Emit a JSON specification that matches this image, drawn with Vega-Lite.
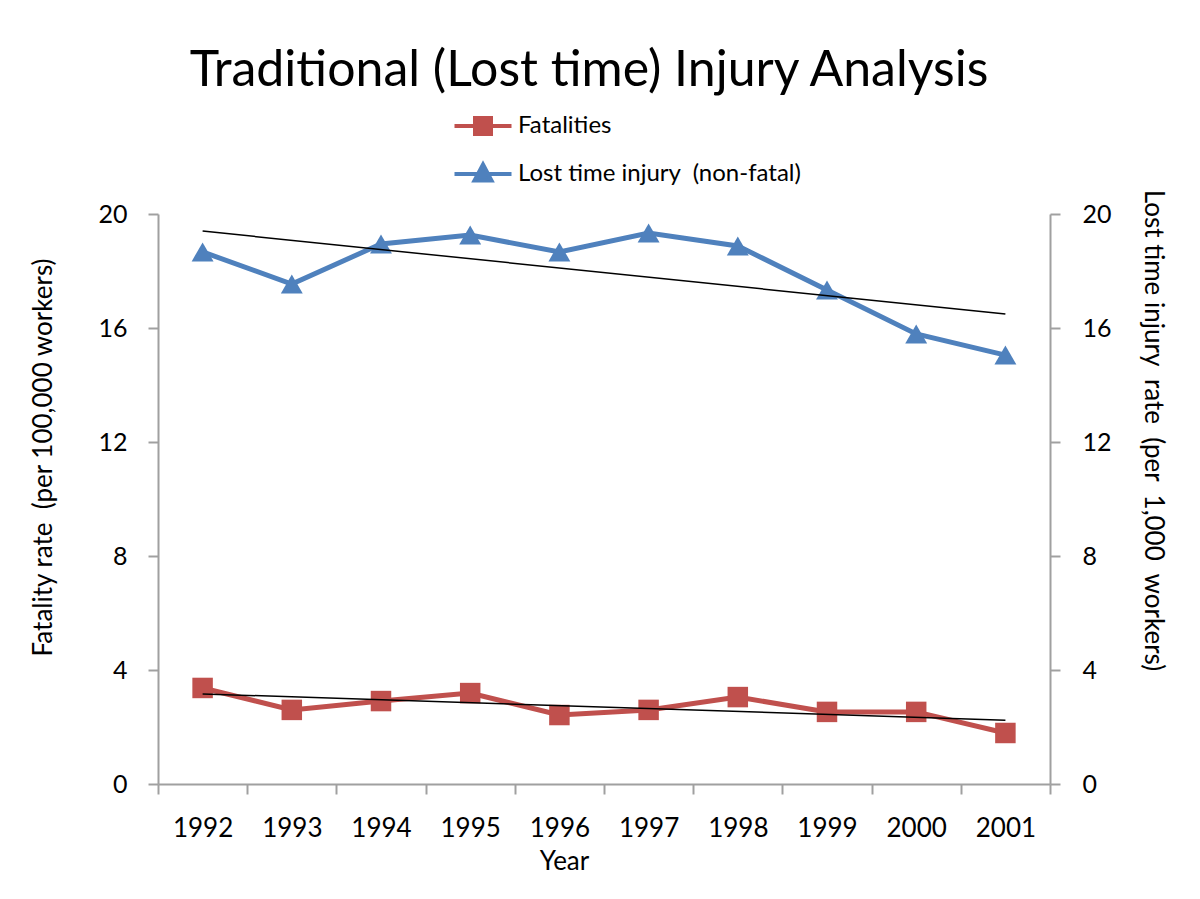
{
  "$schema": "https://vega.github.io/schema/vega-lite/v6.json",
  "width": 892,
  "height": 570,
  "autosize": {"type": "none"},
  "padding": {"left": 158, "top": 214, "right": 150, "bottom": 115},
  "background": "white",
  "title": {
    "text": "Traditional (Lost time) Injury Analysis",
    "font": "Lato",
    "fontSize": 50,
    "fontWeight": "normal",
    "color": "black",
    "anchor": "middle",
    "frame": "group",
    "offset": 18,
    "dx": -15
  },
  "config": {
    "view": {"stroke": null},
    "font": "Lato",
    "axis": {
      "grid": false,
      "domainColor": "#a0a0a0",
      "domainWidth": 2,
      "tickColor": "#a0a0a0",
      "tickWidth": 2,
      "tickSize": 10,
      "labelFont": "Lato",
      "labelFontSize": 25,
      "labelColor": "black",
      "titleFont": "Lato",
      "titleFontSize": 24,
      "titleFontWeight": "normal",
      "titleColor": "black"
    }
  },
  "datasets": {
    "obs": [
      {"year": "1992", "series": "Fatalities", "value": 3.37},
      {"year": "1993", "series": "Fatalities", "value": 2.6},
      {"year": "1994", "series": "Fatalities", "value": 2.91},
      {"year": "1995", "series": "Fatalities", "value": 3.19},
      {"year": "1996", "series": "Fatalities", "value": 2.42},
      {"year": "1997", "series": "Fatalities", "value": 2.6},
      {"year": "1998", "series": "Fatalities", "value": 3.05},
      {"year": "1999", "series": "Fatalities", "value": 2.53},
      {"year": "2000", "series": "Fatalities", "value": 2.53},
      {"year": "2001", "series": "Fatalities", "value": 1.79},
      {"year": "1992", "series": "Lost time injury  (non-fatal)", "value": 18.67},
      {"year": "1993", "series": "Lost time injury  (non-fatal)", "value": 17.54},
      {"year": "1994", "series": "Lost time injury  (non-fatal)", "value": 18.95},
      {"year": "1995", "series": "Lost time injury  (non-fatal)", "value": 19.26},
      {"year": "1996", "series": "Lost time injury  (non-fatal)", "value": 18.67},
      {"year": "1997", "series": "Lost time injury  (non-fatal)", "value": 19.33},
      {"year": "1998", "series": "Lost time injury  (non-fatal)", "value": 18.88},
      {"year": "1999", "series": "Lost time injury  (non-fatal)", "value": 17.33},
      {"year": "2000", "series": "Lost time injury  (non-fatal)", "value": 15.79},
      {"year": "2001", "series": "Lost time injury  (non-fatal)", "value": 15.05}
    ],
    "trend": [
      {"year": "1992", "series": "Fatalities", "value": 3.16},
      {"year": "2001", "series": "Fatalities", "value": 2.24},
      {"year": "1992", "series": "Lost time injury  (non-fatal)", "value": 19.4},
      {"year": "2001", "series": "Lost time injury  (non-fatal)", "value": 16.49}
    ]
  },
  "encoding": {
    "x": {
      "field": "year",
      "type": "ordinal",
      "scale": {"type": "band", "paddingInner": 0, "paddingOuter": 0, "domain": ["1992","1993","1994","1995","1996","1997","1998","1999","2000","2001"]},
      "axis": {"title": "Year", "labelAngle": 0, "labelFontSize": 26, "titleFontSize": 26, "tickBand": "extent", "labelPadding": 21, "titlePadding": 7, "titleX": 406}
    }
  },
  "layer": [
    {
      "encoding": {
        "y": {
          "field": "value",
          "type": "quantitative",
          "scale": {"domain": [0, 20], "nice": false},
          "axis": {"orient": "left", "values": [0, 4, 8, 12, 16, 20], "title": "Fatality rate \u00a0(per 100,000 workers)", "titleFontSize": 26, "labelPadding": 21, "titlePadding": 41, "titleY": 243}
        }
      },
      "layer": [
        {
          "data": {"name": "obs"},
          "transform": [{"filter": "datum.series === 'Fatalities'"}],
          "mark": {"type": "line", "strokeWidth": 5},
          "encoding": {
            "color": {
              "field": "series",
              "type": "nominal",
              "scale": {"domain": ["Fatalities", "Lost time injury  (non-fatal)"], "range": ["#c0504d", "#4f81bd"]},
              "legend": {
                "orient": "none",
                "legendX": 313,
                "legendY": -100,
                "direction": "vertical",
                "title": null,
                "labelFont": "Lato",
                "labelFontSize": 24,
                "labelColor": "black",
                "labelLimit": 600,
                "labelExpr": "datum.label === 'Fatalities' ? 'Fatalities' : 'Lost time injury \u00a0(non-fatal)'",
                "symbolSize": 400,
                "symbolStrokeWidth": 4,
                "labelOffset": 23,
                "rowPadding": 14,
                "encode": {
                  "symbols": {
                    "update": {
                      "shape": {"signal": "datum.value === 'Fatalities' ? 'M-2.85,0H2.85M-0.8,-0.8H0.8V0.8H-0.8Z' : 'M-2.85,0H2.85M0,-0.95L0.85,0.65L-0.85,0.65Z'"},
                      "fill": {"signal": "datum.value === 'Fatalities' ? '#c0504d' : '#4f81bd'"},
                      "stroke": {"signal": "datum.value === 'Fatalities' ? '#c0504d' : '#4f81bd'"},
                      "strokeWidth": {"value": 4},
                      "fillOpacity": {"value": 1}
                    }
                  }
                }
              }
            }
          }
        },
        {
          "data": {"name": "obs"},
          "transform": [{"filter": "datum.series === 'Fatalities'"}],
          "mark": {"type": "point", "shape": "square", "filled": true, "size": 420, "opacity": 1, "color": "#c0504d"}
        },
        {
          "data": {"name": "trend"},
          "transform": [{"filter": "datum.series === 'Fatalities'"}],
          "mark": {"type": "line", "strokeWidth": 1.5, "color": "black"}
        }
      ]
    },
    {
      "encoding": {
        "y": {
          "field": "value",
          "type": "quantitative",
          "scale": {"domain": [0, 20], "nice": false},
          "axis": {"orient": "right", "values": [0, 4, 8, 12, 16, 20], "title": "Lost time injury \u00a0rate \u00a0(per \u00a01,000 \u00a0workers)", "titleFontSize": 26, "labelPadding": 22, "titlePadding": 28, "titleY": 216}
        }
      },
      "layer": [
        {
          "data": {"name": "obs"},
          "transform": [{"filter": "datum.series !== 'Fatalities'"}],
          "mark": {"type": "line", "strokeWidth": 5},
          "encoding": {
            "color": {"field": "series", "type": "nominal"}
          }
        },
        {
          "data": {"name": "obs"},
          "transform": [{"filter": "datum.series !== 'Fatalities'"}],
          "mark": {"type": "point", "shape": "triangle-up", "filled": true, "size": 480, "opacity": 1, "color": "#4f81bd"}
        },
        {
          "data": {"name": "trend"},
          "transform": [{"filter": "datum.series !== 'Fatalities'"}],
          "mark": {"type": "line", "strokeWidth": 1.5, "color": "black"}
        }
      ]
    }
  ],
  "resolve": {"scale": {"y": "independent"}}
}
